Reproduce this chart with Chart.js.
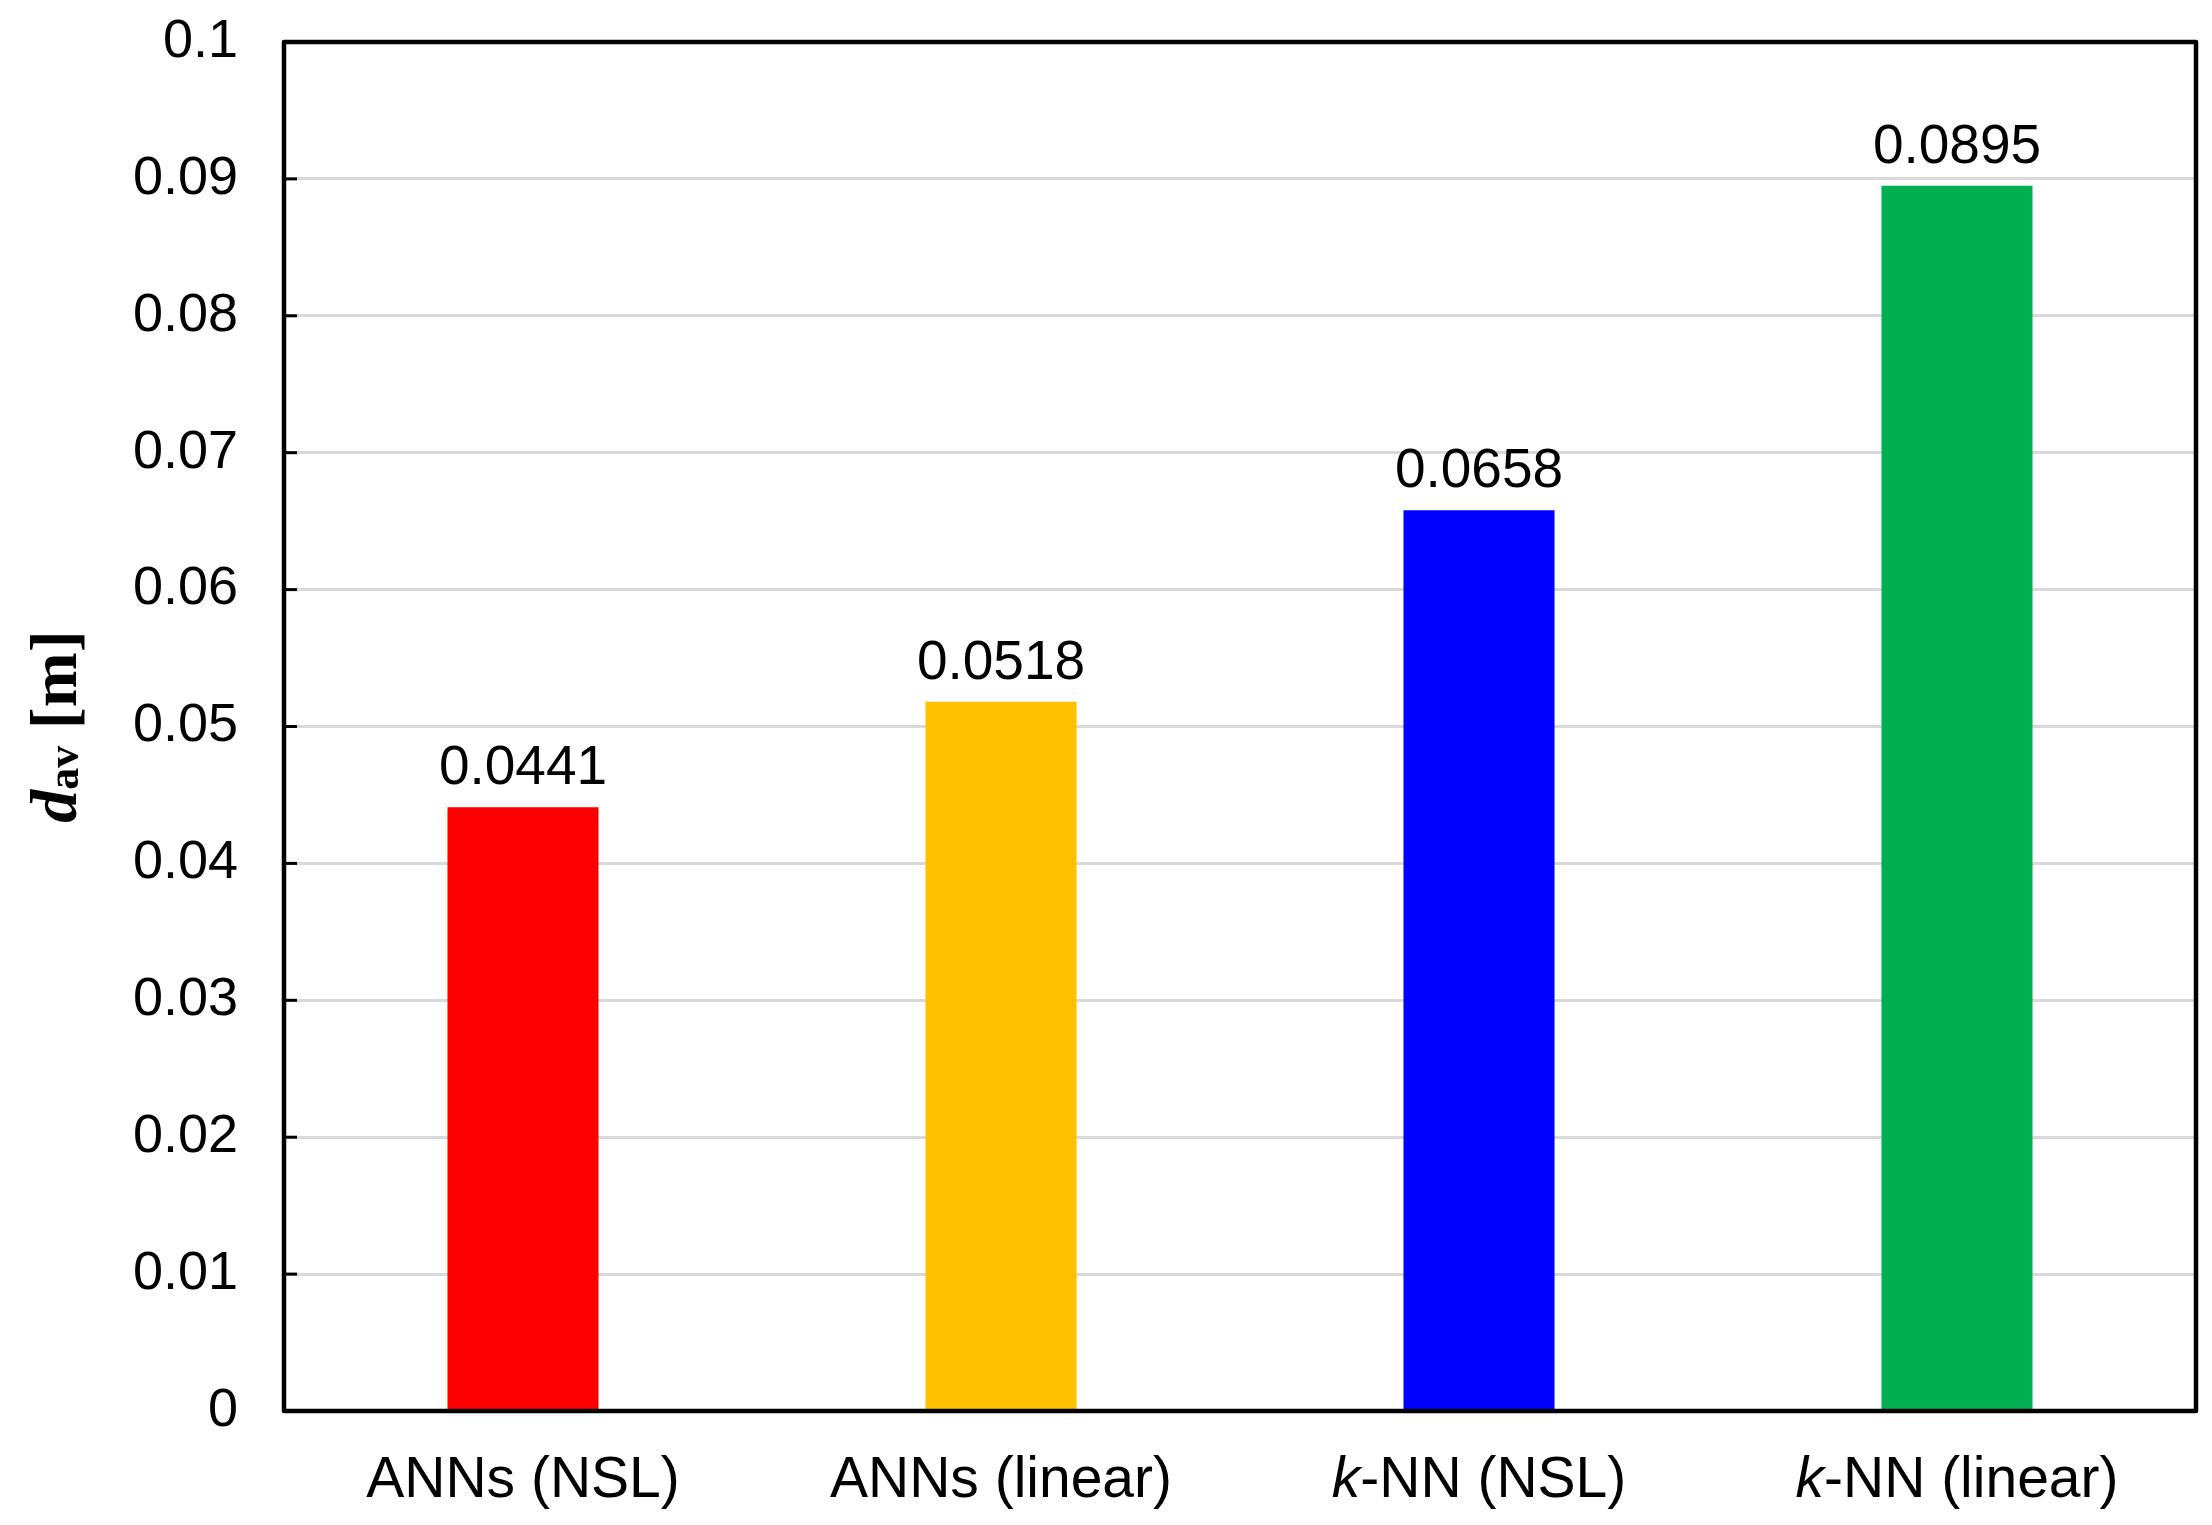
<!DOCTYPE html>
<html>
<head>
<meta charset="utf-8">
<script src="https://cdn.jsdelivr.net/npm/chart.js@4"></script>
<style>
  html, body { margin: 0; padding: 0; background: #fff; }
  #wrap { width: 2212px; height: 1525px; }
</style>
</head>
<body>
<div id="wrap"><canvas id="chart" width="2212" height="1525"></canvas></div>
<script>
// data
const categories = ['ANNs (NSL)', 'ANNs (linear)', 'k-NN (NSL)', 'k-NN (linear)'];
const dAv = [0.0441, 0.0518, 0.0658, 0.0895];
const barColors = ['#FF0000', '#FFC000', '#0000FF', '#00B050'];
const yTicks = [0, 0.01, 0.02, 0.03, 0.04, 0.05, 0.06, 0.07, 0.08, 0.09, 0.1];

const SANS = '"Liberation Sans", Arial, sans-serif';
const SERIF = '"Liberation Serif", "Times New Roman", serif';
const FONT_PX = 54;
const XLABEL_PX = 57;

// draws a label, with a leading "k" in italics (k-NN)
function drawLabel(ctx, text, cx, y, size) {
  let parts = [[text, false]];
  if (text.startsWith('k-')) parts = [['k', true], [text.slice(1), false]];
  let total = 0;
  const widths = parts.map(([t, it]) => {
    ctx.font = (it ? 'italic ' : '') + size + 'px ' + SANS;
    const w = ctx.measureText(t).width;
    total += w;
    return w;
  });
  let x = cx - total / 2;
  parts.forEach(([t, it], i) => {
    ctx.font = (it ? 'italic ' : '') + size + 'px ' + SANS;
    ctx.fillText(t, x, y);
    x += widths[i];
  });
}

const decorations = {
  id: 'decorations',
  afterDatasetsDraw(chart) {
    const { ctx, chartArea: a, scales } = chart;
    ctx.save();

    // inner tick marks on the y axis
    ctx.strokeStyle = '#000';
    ctx.lineWidth = 3;
    yTicks.forEach(v => {
      const y = scales.y.getPixelForValue(v);
      ctx.beginPath();
      ctx.moveTo(a.left, y);
      ctx.lineTo(a.left + 13, y);
      ctx.stroke();
    });

    // frame
    ctx.lineWidth = 4.5;
    ctx.lineJoin = 'round';
    ctx.strokeRect(a.left, a.top, a.right - a.left, a.bottom - a.top);

    ctx.fillStyle = '#000';
    ctx.textAlign = 'left';
    ctx.textBaseline = 'middle';

    // category labels
    categories.forEach((c, i) => {
      drawLabel(ctx, c, scales.x.getPixelForValue(i), a.bottom + 70, XLABEL_PX);
    });

    // value labels over the bars
    ctx.textBaseline = 'alphabetic';
    const meta = chart.getDatasetMeta(0);
    meta.data.forEach((bar, i) => {
      drawLabel(ctx, dAv[i].toFixed(4), bar.x, bar.y - 23, FONT_PX + 1);
    });

    // y axis title: d_av [m]
    ctx.translate(59, (a.top + a.bottom) / 2);
    ctx.rotate(-Math.PI / 2);
    ctx.textBaseline = 'middle';
    const pieces = [
      { t: 'd', f: 'italic bold 66px ' + SERIF, dy: 0 },
      { t: 'av', f: 'bold 44px ' + SERIF, dy: 8 },
      { t: ' [m]', f: 'bold 66px ' + SERIF, dy: 0 }
    ];
    let tw = 0;
    pieces.forEach(p => { ctx.font = p.f; p.w = ctx.measureText(p.t).width; tw += p.w; });
    let x = -tw / 2;
    pieces.forEach(p => {
      ctx.font = p.f;
      ctx.fillText(p.t, x, p.dy);
      x += p.w;
    });

    ctx.restore();
  }
};

new Chart(document.getElementById('chart'), {
  type: 'bar',
  data: {
    labels: categories,
    datasets: [{
      data: dAv,
      backgroundColor: barColors,
      borderWidth: 0,
      categoryPercentage: 1,
      barPercentage: 0.316
    }]
  },
  options: {
    responsive: false,
    animation: false,
    devicePixelRatio: 1,
    layout: { padding: { top: 42, right: 16, left: 0, bottom: 0 } },
    plugins: {
      legend: { display: false },
      tooltip: { enabled: false }
    },
    scales: {
      x: {
        grid: { display: false },
        border: { display: false },
        ticks: { display: false },
        afterFit(scale) { scale.height = 114; }
      },
      y: {
        min: 0,
        max: 0.1,
        afterBuildTicks(scale) { scale.ticks = yTicks.map(v => ({ value: v })); },
        grid: { color: '#d9d9d9', lineWidth: 3, drawTicks: false },
        border: { display: false },
        ticks: {
          color: '#000',
          padding: 46,
          font: { family: SANS, size: FONT_PX },
          callback: v => String(Number(v.toFixed(2)))
        },
        afterFit(scale) {
          scale.width = 284;
          scale.paddingTop = 0;
          scale.paddingBottom = 0;
        }
      }
    }
  },
  plugins: [decorations]
});
</script>
</body>
</html>
